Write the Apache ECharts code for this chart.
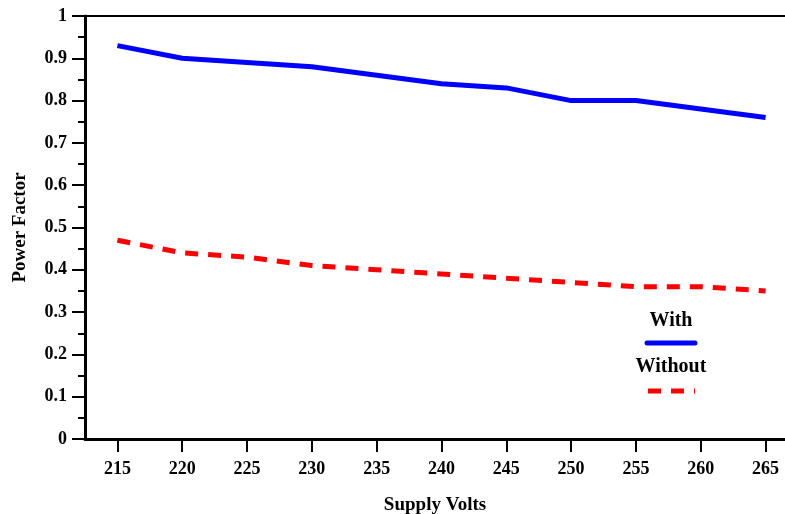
<!DOCTYPE html>
<html>
<head>
<meta charset="utf-8">
<script src="https://cdn.jsdelivr.net/npm/echarts@6/dist/echarts.min.js"></script>
<style>
  html, body { margin: 0; padding: 0; background: #fff; }
  #chart { width: 785px; height: 514px; }
</style>
</head>
<body>
<div id="chart"></div>
<script>
// supply voltage steps and power factor readings
const volts = [215, 220, 225, 230, 235, 240, 245, 250, 255, 260, 265];
const withPF = [0.93, 0.90, 0.89, 0.88, 0.86, 0.84, 0.83, 0.80, 0.80, 0.78, 0.76];
const withoutPF = [0.47, 0.44, 0.43, 0.41, 0.40, 0.39, 0.38, 0.37, 0.36, 0.36, 0.35];

const font = "Liberation Serif";
const labelStyle = { color: "#000", fontFamily: font, fontWeight: "bold", fontSize: 18 };

const option = {
  animation: false,
  grid: { left: 85, top: 16, right: 0, bottom: 75, outerBoundsMode: "none", containLabel: false },
  xAxis: [
    {
      type: "value",
      min: 212.5,
      max: 266.5,
      name: "Supply Volts",
      nameLocation: "middle",
      nameGap: 57,
      nameTextStyle: { color: "#000", fontFamily: font, fontWeight: "bold", fontSize: 19 },
      axisLine: { show: true, lineStyle: { color: "#000", width: 3 } },
      axisTick: { show: true, inside: false, length: 13, customValues: volts, lineStyle: { color: "#000", width: 2 } },
      axisLabel: { customValues: volts, margin: 21, ...labelStyle },
      splitLine: { show: false }
    },
    {
      // top frame line
      type: "value",
      position: "top",
      min: 212.5,
      max: 266.5,
      axisLine: { show: true, lineStyle: { color: "#000", width: 2 } },
      axisTick: { show: false },
      axisLabel: { show: false },
      splitLine: { show: false }
    }
  ],
  yAxis: {
    type: "value",
    min: 0,
    max: 1,
    interval: 0.1,
    name: "Power Factor",
    nameLocation: "middle",
    nameGap: 55,
    nameTextStyle: { color: "#000", fontFamily: font, fontWeight: "bold", fontSize: 19 },
    axisLine: { show: true, lineStyle: { color: "#000", width: 3 } },
    axisTick: { show: true, inside: false, length: 13, lineStyle: { color: "#000", width: 2 } },
    minorTick: { show: true, splitNumber: 2, length: 7, lineStyle: { color: "#000", width: 2 } },
    axisLabel: { margin: 18, ...labelStyle, formatter: v => String(+v.toFixed(1)) },
    splitLine: { show: false }
  },
  series: [
    {
      name: "With",
      type: "line",
      data: volts.map((v, i) => [v, withPF[i]]),
      showSymbol: false,
      lineStyle: { color: "#0000ff", width: 5 }
    },
    {
      name: "Without",
      type: "line",
      data: volts.map((v, i) => [v, withoutPF[i]]),
      showSymbol: false,
      lineStyle: { color: "#ff0000", width: 5, type: [13, 10] }
    }
  ],
  graphic: [
    { type: "text", x: 671, y: 321, style: { text: "With", fill: "#000", font: "bold 20px " + font, align: "center", verticalAlign: "middle" } },
    { type: "line", shape: { x1: 647, y1: 343, x2: 695, y2: 343 }, style: { stroke: "#0000ff", lineWidth: 5, lineCap: "round" } },
    { type: "text", x: 671, y: 367, style: { text: "Without", fill: "#000", font: "bold 20px " + font, align: "center", verticalAlign: "middle" } },
    { type: "line", shape: { x1: 648, y1: 391, x2: 695, y2: 391 }, style: { stroke: "#ff0000", lineWidth: 5, lineDash: [13, 10] } }
  ]
};

const myChart = echarts.init(document.getElementById("chart"));
myChart.setOption(option);
</script>
</body>
</html>
